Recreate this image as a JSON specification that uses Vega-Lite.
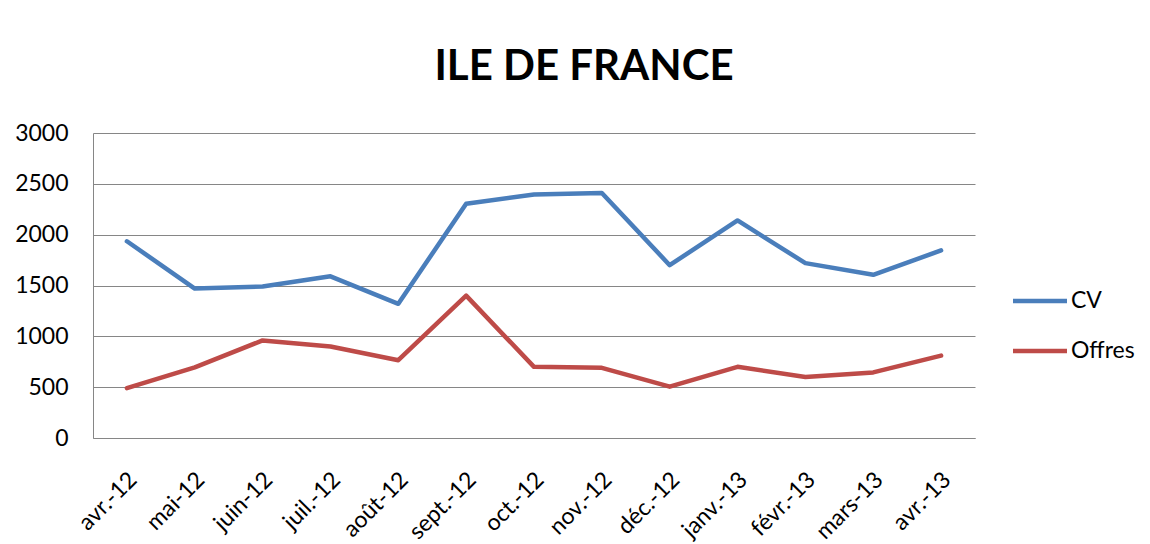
{
  "$schema": "https://vega.github.io/schema/vega-lite/v6.json",
  "autosize": {"type": "none"},
  "padding": {"left": 93, "top": 133, "right": 175, "bottom": 106},
  "width": 882,
  "height": 305,
  "background": "white",
  "title": {
    "text": "ILE DE FRANCE",
    "font": "Lato",
    "fontSize": 42,
    "fontWeight": "bold",
    "color": "black",
    "anchor": "middle",
    "frame": "group",
    "baseline": "alphabetic",
    "offset": 0,
    "dx": 50
  },
  "data": {
    "values": [
      {"mois": "avr.-12", "serie": "CV", "valeur": 1935},
      {"mois": "mai-12", "serie": "CV", "valeur": 1470},
      {"mois": "juin-12", "serie": "CV", "valeur": 1490},
      {"mois": "juil.-12", "serie": "CV", "valeur": 1590},
      {"mois": "août-12", "serie": "CV", "valeur": 1320},
      {"mois": "sept.-12", "serie": "CV", "valeur": 2305},
      {"mois": "oct.-12", "serie": "CV", "valeur": 2395},
      {"mois": "nov.-12", "serie": "CV", "valeur": 2410},
      {"mois": "déc.-12", "serie": "CV", "valeur": 1700},
      {"mois": "janv.-13", "serie": "CV", "valeur": 2140},
      {"mois": "févr.-13", "serie": "CV", "valeur": 1720},
      {"mois": "mars-13", "serie": "CV", "valeur": 1605},
      {"mois": "avr.-13", "serie": "CV", "valeur": 1845},
      {"mois": "avr.-12", "serie": "Offres", "valeur": 490},
      {"mois": "mai-12", "serie": "Offres", "valeur": 695},
      {"mois": "juin-12", "serie": "Offres", "valeur": 960},
      {"mois": "juil.-12", "serie": "Offres", "valeur": 900},
      {"mois": "août-12", "serie": "Offres", "valeur": 765},
      {"mois": "sept.-12", "serie": "Offres", "valeur": 1400},
      {"mois": "oct.-12", "serie": "Offres", "valeur": 700},
      {"mois": "nov.-12", "serie": "Offres", "valeur": 690},
      {"mois": "déc.-12", "serie": "Offres", "valeur": 505},
      {"mois": "janv.-13", "serie": "Offres", "valeur": 700},
      {"mois": "févr.-13", "serie": "Offres", "valeur": 600},
      {"mois": "mars-13", "serie": "Offres", "valeur": 645},
      {"mois": "avr.-13", "serie": "Offres", "valeur": 810}
    ]
  },
  "mark": {"type": "line", "strokeWidth": 4.5, "strokeJoin": "round", "strokeCap": "round"},
  "encoding": {
    "x": {
      "field": "mois",
      "type": "ordinal",
      "sort": null,
      "scale": {"type": "point", "padding": 0.5},
      "axis": {
        "title": null,
        "labelAngle": -45,
        "labelAlign": "right",
        "labelBaseline": "top",
        "labelPadding": 30,
        "labelOffset": -2,
        "labelFont": "Lato",
        "labelFontSize": 23,
        "labelColor": "black",
        "ticks": false,
        "domainColor": "#868686",
        "domainWidth": 1,
        "grid": false
      }
    },
    "y": {
      "field": "valeur",
      "type": "quantitative",
      "scale": {"domain": [0, 3000], "nice": false},
      "axis": {
        "title": null,
        "values": [0, 500, 1000, 1500, 2000, 2500, 3000],
        "format": "d",
        "labelFont": "Lato",
        "labelFontSize": 23,
        "labelColor": "black",
        "labelPadding": 25,
        "ticks": false,
        "domainColor": "#868686",
        "domainWidth": 1,
        "grid": true,
        "gridColor": "#868686",
        "gridWidth": 1
      }
    },
    "color": {
      "field": "serie",
      "type": "nominal",
      "scale": {"domain": ["CV", "Offres"], "range": ["#4A7EBB", "#BE4B48"]},
      "legend": {
        "title": null,
        "orient": "none",
        "legendX": 931,
        "legendY": 152,
        "padding": 0,
        "symbolType": "M-2,0L2,0",
        "symbolSize": 729,
        "symbolStrokeWidth": 4.5,
        "labelFont": "Lato",
        "labelFontSize": 23,
        "labelColor": "black",
        "labelOffset": 15,
        "rowPadding": 22
      }
    }
  },
  "config": {
    "view": {"stroke": null}
  }
}
